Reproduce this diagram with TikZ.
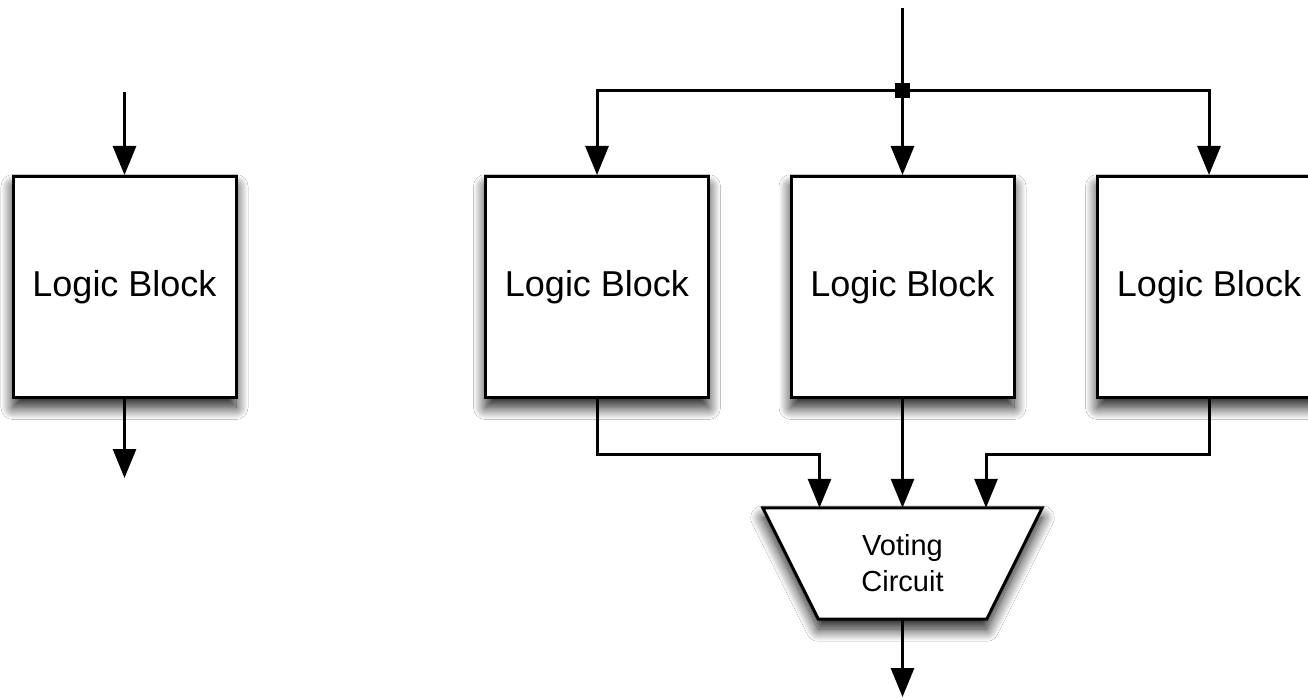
\documentclass[tikz,border=0pt]{standalone}
\usepackage{fontspec}
\setmainfont{Liberation Sans}
\usetikzlibrary{arrows.meta,shadows.blur,backgrounds}
\begin{document}
\begin{tikzpicture}[x=1pt,y=-1pt,
  wire/.style={line width=3pt,draw=black},
  arr/.style={wire,-{Triangle[length=29pt,width=23pt]}},
  softshadow/.style={blur shadow={shadow xshift=0pt,shadow yshift=-10pt,shadow blur radius=12pt,
    shadow blur steps=20,shadow opacity=90}},
  logicbox/.style={draw,line width=3pt,fill=white,minimum width=223pt,minimum height=221pt,inner sep=0pt,
    font=\fontsize{36}{40}\selectfont,softshadow},
  votertext/.style={minimum width=279pt,minimum height=111pt,inner sep=0pt,align=center,
    font=\fontsize{29}{36}\selectfont},
  voteroutline/.style={draw,line width=3pt,fill=white,line join=miter,softshadow},
  junction/.style={fill=black,minimum size=15pt,inner sep=0pt}]
\useasboundingbox (0,0) rectangle (1308,700);
\begin{scope}
\clip (0,0) rectangle (1308,700);

% single block on the left
\node[logicbox] (b1) at (124.5,287) {Logic Block};
\coordinate (lin) at (124.5,92);
\coordinate (lout) at (124.5,478);

% triplicated blocks
\node[logicbox] (b2) at (597,287) {Logic Block};
\node[logicbox] (b3) at (902.5,287) {Logic Block};
\node[logicbox] (b4) at (1209,287) {Logic Block};

% voter: text node, trapezoid outline drawn behind it
\node[votertext] (vt) at (902.5,563.5) {Voting\\Circuit};
\begin{scope}[on background layer]
  \fill[white] (0,0) rectangle (1308,700);
  \path[voteroutline] (vt.north west) -- (vt.north east)
    -- ([xshift=-55.5pt]vt.south east) -- ([xshift=55.5pt]vt.south west) -- cycle;
\end{scope}

% fan-out junction and input
\coordinate (src) at (902.5,8);
\node[junction] (j) at (902.5,91) {};
\coordinate (vout) at (902.5,697);

\draw[arr] (lin) -- (b1.north);
\draw[arr] (b1.south) -- (lout);

\draw[wire] (src) -- (j.center);
\draw[arr] (j.center) -| (b2.north);
\draw[arr] (j.center) -- (b3.north);
\draw[arr] (j.center) -| (b4.north);
\node[junction] at (j) {};

\draw[arr] (b2.south) -- ++(0,55) -| ([xshift=-83pt]vt.north);
\draw[arr] (b3.south) -- (vt.north);
\draw[arr] (b4.south) -- ++(0,55) -| ([xshift=83.5pt]vt.north);
\draw[arr] (vt.south) -- (vout);
\end{scope}
\end{tikzpicture}
\end{document}
